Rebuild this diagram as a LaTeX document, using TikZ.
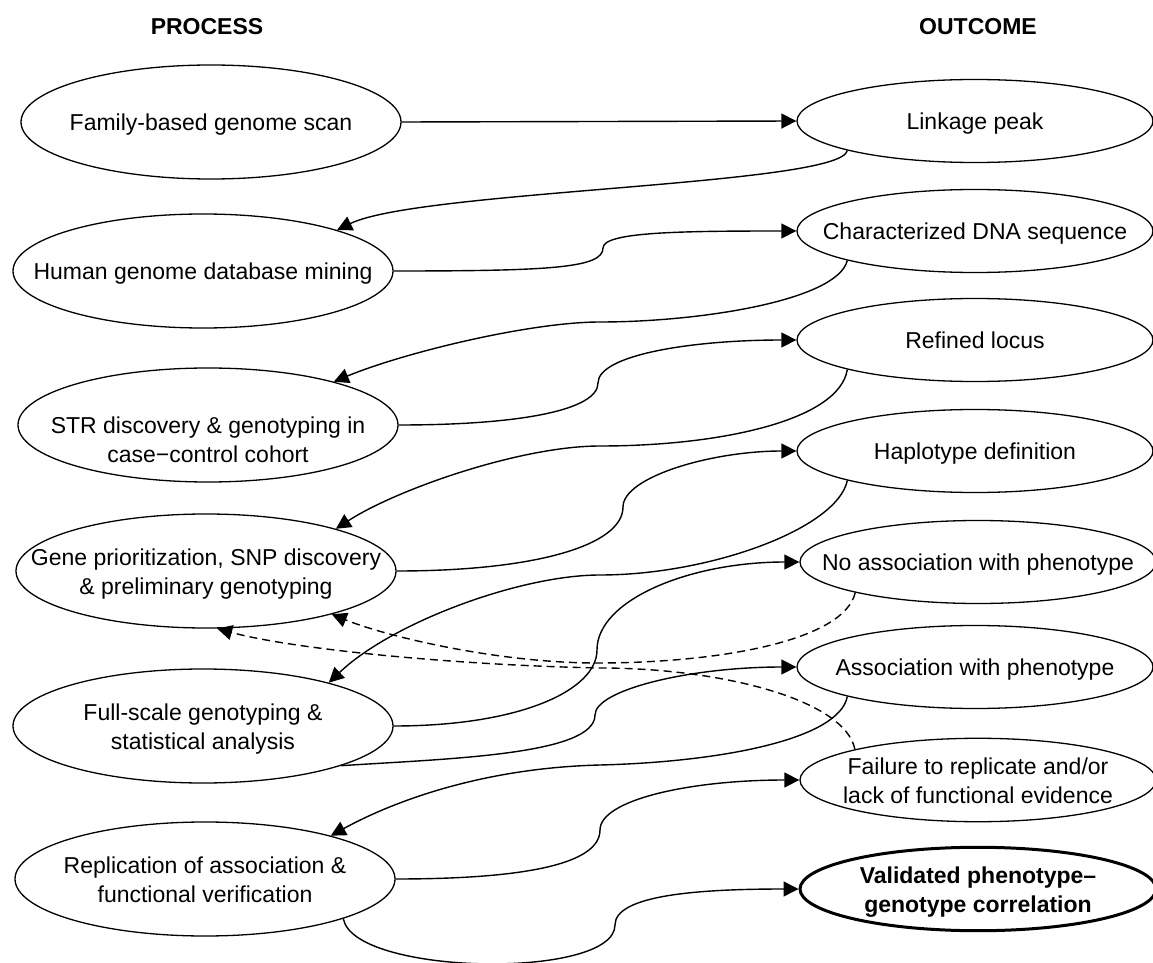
\documentclass[tikz,border=0pt]{standalone}
\usepackage{fontspec}
\setmainfont{Liberation Sans}
\usetikzlibrary{arrows.meta,shapes.geometric}
\definecolor{ink}{RGB}{0,0,0}
\tikzset{
  >={Triangle[length=7.5pt,width=7.5pt]},
  proc/.style={ellipse,draw=ink,line width=0.65pt,inner sep=0pt,
    minimum width=190pt,minimum height=57pt,font=\fontsize{11.5pt}{14.75pt}\selectfont},
  outc/.style={proc,minimum width=178pt,minimum height=41.5pt},
  final/.style={outc,line width=1.5pt,font=\fontsize{11.5pt}{14.75pt}\selectfont\bfseries},
  hdr/.style={font=\fontsize{11.5pt}{14.75pt}\selectfont\bfseries},
  flow/.style={->,draw=ink,line width=0.7pt},
  back/.style={flow,dash pattern=on 4pt off 2.5pt},
}
\newcommand{\lines}[2][-1.5pt]{\makebox[0pt]{\raisebox{#1}[\height][\depth]{\begin{tabular}{@{}c@{}}#2\end{tabular}}}}

\begin{document}
\begin{tikzpicture}[x=0.5pt,y=-0.5pt]
  \useasboundingbox (0,0) rectangle (1153,963);
  \node[hdr] (hproc) at (207,27) {PROCESS};
  \node[hdr] (hout) at (978,27) {OUTCOME};
  % process column
  \node[proc] (p1) at (211,122) {\lines{Family-based genome scan}};
  \node[proc] (p2) at (203,271) {\lines{Human genome database mining}};
  \node[proc] (p3) at (208,425) {\lines[-8.5pt]{STR discovery \& genotyping in\\case−control cohort}};
  \node[proc] (p4) at (206,571) {\lines{Gene prioritization, SNP discovery\\\& preliminary genotyping}};
  \node[proc] (p5) at (203,726) {\lines{Full-scale genotyping \&\\statistical analysis}};
  \node[proc] (p6) at (205,879) {\lines{Replication of association \&\\functional verification}};
  % outcome column
  \node[outc] (o1) at (975,121) {\lines{Linkage peak}};
  \node[outc] (o2) at (975,231) {\lines{Characterized DNA sequence}};
  \node[outc] (o3) at (975,340) {\lines{Refined locus}};
  \node[outc] (o4) at (975,451) {\lines{Haplotype definition}};
  \node[outc] (o5) at (978,562) {\lines{No association with phenotype}};
  \node[outc] (o6) at (975,667) {\lines{Association with phenotype}};
  \node[outc] (o7) at (978,780) {\lines{Failure to replicate and/or\\lack of functional evidence}};
  \node[final] (o8) at (978,889) {\lines{Validated phenotype–\\genotype correlation}};
  % forward and back
  \draw[flow] (p1.east) -- (o1.west);
  \draw[flow] (o1.193) .. controls +(-6,35) and +(82,-40) .. (p2.17);
  \draw[flow] (p2.east) .. controls +(157,0) and +(0,20) .. (603,248) .. controls +(0,-16) and +(-117,0) .. (o2.west);
  \draw[flow] (o2.193) .. controls +(-10,40) and +(100,0) .. (600,322) .. controls +(-70,0) and +(70,-29) .. (p3.19);
  \draw[flow] (p3.east) .. controls +(122,0) and +(0,27) .. (598,383) .. controls +(0,-28) and +(-105,0) .. (o3.west);
  \draw[flow] (o3.193) .. controls +(-8,51) and +(120,0) .. (600,446) .. controls +(-80,0) and +(60,-39) .. (p4.18);
  \draw[flow] (p4.east) .. controls +(140,0) and +(0,38) .. (623,507) .. controls +(0,-30) and +(-85,0) .. (o4.west);
  \draw[flow] (o4.193) .. controls +(-10,48) and +(110,0) .. (600,575) .. controls +(-80,0) and +(63,-60) .. (p5.19);
  \draw[flow] (p5.east) .. controls +(127,0) and +(0,40) .. (597,650) .. controls +(0,-50) and +(-110,0) .. (o5.west);
  \draw[flow] (p5.344) .. controls +(107,-7) and +(0,40) .. (595,715) .. controls +(0,-25) and +(-107,0) .. (o6.west);
  \draw[back] (o5.194) .. controls +(-11,48) and +(123,0) .. (597,663) .. controls +(-97,0) and +(57,23) .. (p4.341);
  \draw[back] (o7.166) .. controls +(-10,-50) and +(120,0) .. (600,668) .. controls +(-150,-3) and +(73,20) .. (p4.281);
  \draw[flow] (o6.193) .. controls +(-8,43) and +(120,-3) .. (600,765) .. controls +(-120,3) and +(60,-33) .. (p6.19);
  \draw[flow] (p6.east) .. controls +(125,0) and +(0,35) .. (600,830) .. controls +(0,-30) and +(-110,0) .. (o7.west);
  \draw[flow] (p6.344) .. controls +(10,57) and +(0,55) .. (615,925) .. controls +(0,-30) and +(-100,0) .. (o8.west);
\end{tikzpicture}
\end{document}
